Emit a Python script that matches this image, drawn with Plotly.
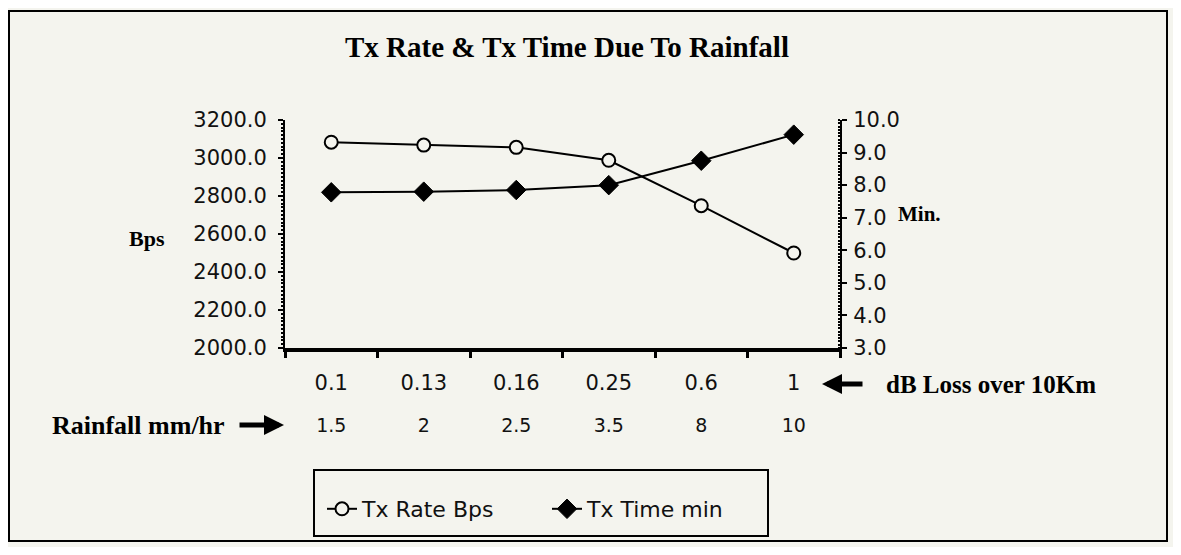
import plotly.graph_objects as go

# ---- data ----
db_loss_labels = ["0.1", "0.13", "0.16", "0.25", "0.6", "1"]
rainfall_labels = ["1.5", "2", "2.5", "3.5", "8", "10"]
tx_rate_bps = [3083, 3068, 3056, 2988, 2749, 2500]
tx_time_min = [7.78, 7.80, 7.85, 8.00, 8.75, 9.55]
left_ticks = [2000, 2200, 2400, 2600, 2800, 3000, 3200]
right_ticks = [3, 4, 5, 6, 7, 8, 9, 10]

# page offset (body margin) between figure and screenshot
OFF = 8
W, H = 1165, 539
ML, MT = 277, 112
MR = W - 832
MB = H - 447
PW = W - ML - MR
PH = H - MT - MB


def px(x):
    """screen x (reference pixels) -> paper fraction"""
    return (x - OFF - ML) / PW


def py(y):
    """screen y (reference pixels) -> paper fraction"""
    return (H - MB - (y - OFF)) / PH


BG = "#f4f4ee"
TICKFONT = dict(family="DejaVu Sans", size=21, color="#111")
SERIF = "Liberation Serif"

idx = list(range(len(db_loss_labels)))

fig = go.Figure()
fig.add_trace(go.Scatter(
    x=idx, y=tx_rate_bps, name="Tx Rate Bps", mode="lines+markers",
    line=dict(color="black", width=2),
    marker=dict(symbol="circle", size=13, color=BG, line=dict(color="black", width=2)),
    xaxis="x", yaxis="y",
))
fig.add_trace(go.Scatter(
    x=idx, y=tx_time_min, name="Tx Time min", mode="lines+markers",
    line=dict(color="black", width=2),
    marker=dict(symbol="diamond", size=15, color="black", line=dict(color="black", width=1)),
    xaxis="x", yaxis="y2",
))
# invisible trace to carry the rainfall axis
fig.add_trace(go.Scatter(
    x=idx, y=[None] * len(idx), xaxis="x2", yaxis="y", showlegend=False,
    hoverinfo="skip", mode="markers", marker=dict(opacity=0),
))

fig.update_layout(
    width=W, height=H,
    margin=dict(l=ML, r=MR, t=MT, b=MB, autoexpand=False),
    paper_bgcolor=BG, plot_bgcolor=BG,
    showlegend=True,
    title=dict(text="<b>Tx Rate &amp; Tx Time Due To Rainfall</b>",
               font=dict(family=SERIF, size=29, color="black"),
               x=(567 - OFF) / W, xanchor="center", y=1 - (47 - OFF) / H, yanchor="middle"),
    xaxis=dict(
        range=[-0.5, 5.5], tickmode="array", tickvals=idx, ticktext=db_loss_labels,
        showgrid=False, zeroline=False, showline=True, linecolor="black", linewidth=4,
        ticks="outside", ticklen=0, tickfont=TICKFONT, ticklabelstandoff=13,
        anchor="y",
        minor=dict(tickvals=[i + 0.5 for i in range(-1, 6)], ticks="outside",
                   ticklen=6, tickwidth=3, tickcolor="black"),
    ),
    xaxis2=dict(
        range=[-0.5, 5.5], tickmode="array", tickvals=idx, ticktext=rainfall_labels,
        showgrid=False, zeroline=False, showline=False, ticks="",
        tickfont=dict(family="DejaVu Sans", size=19, color="#111"),
        anchor="free", position=py(412), overlaying="x",
    ),
    yaxis=dict(
        range=[2000, 3200], tickmode="array", tickvals=left_ticks,
        tickformat=".1f", domain=[py(348), 1],
        showgrid=False, zeroline=False, showline=True, linecolor="black", linewidth=2,
        ticks="outside", ticklen=5, tickwidth=2, tickcolor="black",
        tickfont=TICKFONT, ticklabelstandoff=7,
        minor=dict(ticks="outside", dtick=20, ticklen=2, tickcolor="black"),
    ),
    yaxis2=dict(
        range=[3, 10], tickmode="array", tickvals=right_ticks,
        tickformat=".1f", overlaying="y", side="right", anchor="x",
        showgrid=False, zeroline=False, showline=True, linecolor="black", linewidth=2,
        ticks="outside", ticklen=5, tickwidth=2, tickcolor="black",
        tickfont=TICKFONT, ticklabelstandoff=2,
        minor=dict(ticks="inside", dtick=0.1, ticklen=2, tickcolor="black"),
    ),
    legend=dict(
        orientation="h", x=px(322), xanchor="left", y=py(509), yanchor="middle",
        bgcolor="rgba(0,0,0,0)", font=dict(family="DejaVu Sans", size=22, color="#111"),
        itemwidth=30, entrywidth=180,
    ),
)

# outer frame and legend frame
fig.add_shape(type="rect", xref="paper", yref="paper",
              x0=px(9), x1=px(1167), y0=py(541), y1=py(11),
              line=dict(color="black", width=2), fillcolor="rgba(0,0,0,0)", layer="below")
fig.add_shape(type="rect", xref="paper", yref="paper",
              x0=px(314), x1=px(768), y0=py(536), y1=py(470),
              line=dict(color="black", width=2), fillcolor="rgba(0,0,0,0)")

# axis titles
fig.add_annotation(text="<b>Bps</b>", xref="paper", yref="paper", x=px(147), y=py(238),
                   xanchor="center", yanchor="middle",
                   showarrow=False, font=dict(family=SERIF, size=22, color="black"))
fig.add_annotation(text="<b>Min.</b>", xref="paper", yref="paper", x=px(919), y=py(214),
                   xanchor="center", yanchor="middle",
                   showarrow=False, font=dict(family=SERIF, size=21, color="black"))

# dB loss label with arrow
fig.add_annotation(text="<b>dB Loss over 10Km</b>", xref="paper", yref="paper",
                   x=px(884), y=py(384), xanchor="left", yanchor="middle", showarrow=False,
                   font=dict(family=SERIF, size=25, color="black"))
fig.add_annotation(text="", xref="paper", yref="paper", x=px(822), y=py(384),
                   ax=42, ay=0, axref="pixel", ayref="pixel",
                   showarrow=True, arrowhead=2, arrowsize=0.8, arrowwidth=5, arrowcolor="black")

# rainfall label with arrow
fig.add_annotation(text="<b>Rainfall mm/hr</b>", xref="paper", yref="paper",
                   x=px(227), y=py(425), xanchor="right", yanchor="middle", showarrow=False,
                   font=dict(family=SERIF, size=26, color="black"))
fig.add_annotation(text="", xref="paper", yref="paper", x=px(284), y=py(425),
                   ax=-46, ay=0, axref="pixel", ayref="pixel",
                   showarrow=True, arrowhead=2, arrowsize=0.8, arrowwidth=5, arrowcolor="black")

fig.write_html("out.html")
